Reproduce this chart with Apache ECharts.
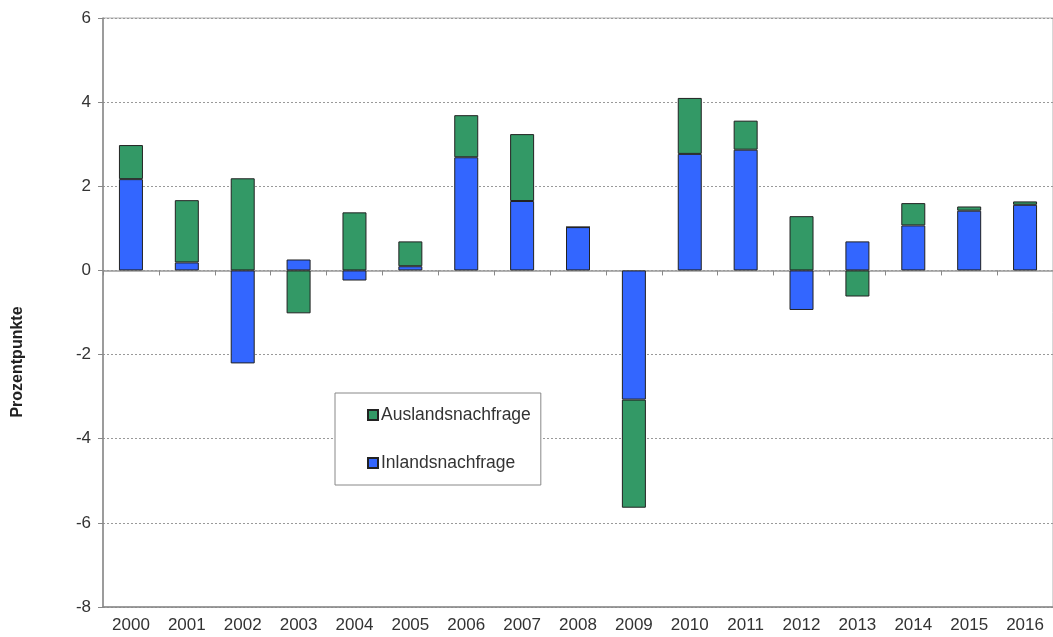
<!DOCTYPE html>
<html>
<head>
<meta charset="utf-8">
<script src="https://cdn.jsdelivr.net/npm/echarts@6/dist/echarts.min.js"></script>
<style>
  html, body { margin: 0; padding: 0; background: #fff; }
  #main { width: 1053px; height: 637px; }
</style>
</head>
<body>
<div id="main"></div>
<script>
// Daten
var years = ['2000','2001','2002','2003','2004','2005','2006','2007','2008','2009','2010','2011','2012','2013','2014','2015','2016'];
var inland = [2.17, 0.19, -2.21, 0.26, -0.24, 0.10, 2.69, 1.65, 1.03, -3.07, 2.77, 2.87, -0.94, 0.69, 1.07, 1.42, 1.56];
var ausland = [0.81, 1.48, 2.19, -1.02, 1.38, 0.59, 1.00, 1.59, 0.00, -2.57, 1.33, 0.69, 1.29, -0.62, 0.53, 0.10, 0.08];
var yTicks = { min: -8, max: 6, interval: 2 };

var myChart = echarts.init(document.getElementById('main'));
var font = 'Liberation Sans, Arial, sans-serif';

var option = {
  animation: false,
  textStyle: { fontFamily: font },
  grid: {
    left: 103, top: 18, width: 959, height: 589,
    show: true, borderColor: '#b0b0b0', borderWidth: 1
  },
  legend: {
    orient: 'vertical',
    left: 335, top: 393,
    data: ['Auslandsnachfrage', 'Inlandsnachfrage'],
    itemWidth: 10, itemHeight: 10, itemGap: 30,
    icon: 'rect',
    padding: [13, 10, 13, 32],
    borderColor: '#888', borderWidth: 1,
    backgroundColor: '#fff',
    textStyle: { fontSize: 17.5, color: '#333', fontFamily: font, padding: [0, 0, 0, -2] }
  },
  graphic: [{
    type: 'text',
    x: 18, y: 362,
    rotation: Math.PI / 2,
    style: {
      text: 'Prozentpunkte', fill: '#222',
      font: 'bold 16px ' + font,
      align: 'center', verticalAlign: 'middle'
    }
  }],
  xAxis: [{
    type: 'category', data: years, position: 'bottom',
    axisLine: { onZero: false, lineStyle: { color: '#888', width: 1.5 } },
    axisTick: { show: false },
    axisLabel: { fontSize: 17, color: '#333', margin: 10 }
  }, {
    type: 'category', data: years, position: 'bottom',
    axisLine: { onZero: true, lineStyle: { color: '#999', width: 1.5 } },
    axisTick: { show: true, length: 5, lineStyle: { color: '#888' } },
    axisLabel: { show: false }
  }],
  yAxis: {
    type: 'value', min: yTicks.min, max: yTicks.max, interval: yTicks.interval,
    axisLine: { show: true, lineStyle: { color: '#888', width: 1.5 } },
    axisTick: { show: true, length: 5, lineStyle: { color: '#888' } },
    axisLabel: { fontSize: 17, color: '#333', margin: 12 },
    splitLine: { lineStyle: { color: '#999', type: [2, 2] } }
  },
  series: [{
    name: 'Inlandsnachfrage', type: 'bar', stack: 'total', data: inland,
    barWidth: 24,
    itemStyle: { color: '#3366ff', borderColor: '#222', borderWidth: 1 }
  }, {
    name: 'Auslandsnachfrage', type: 'bar', stack: 'total', data: ausland,
    barWidth: 24,
    itemStyle: { color: '#339966', borderColor: '#222', borderWidth: 1 }
  }]
};
myChart.setOption(option);
</script>
</body>
</html>
